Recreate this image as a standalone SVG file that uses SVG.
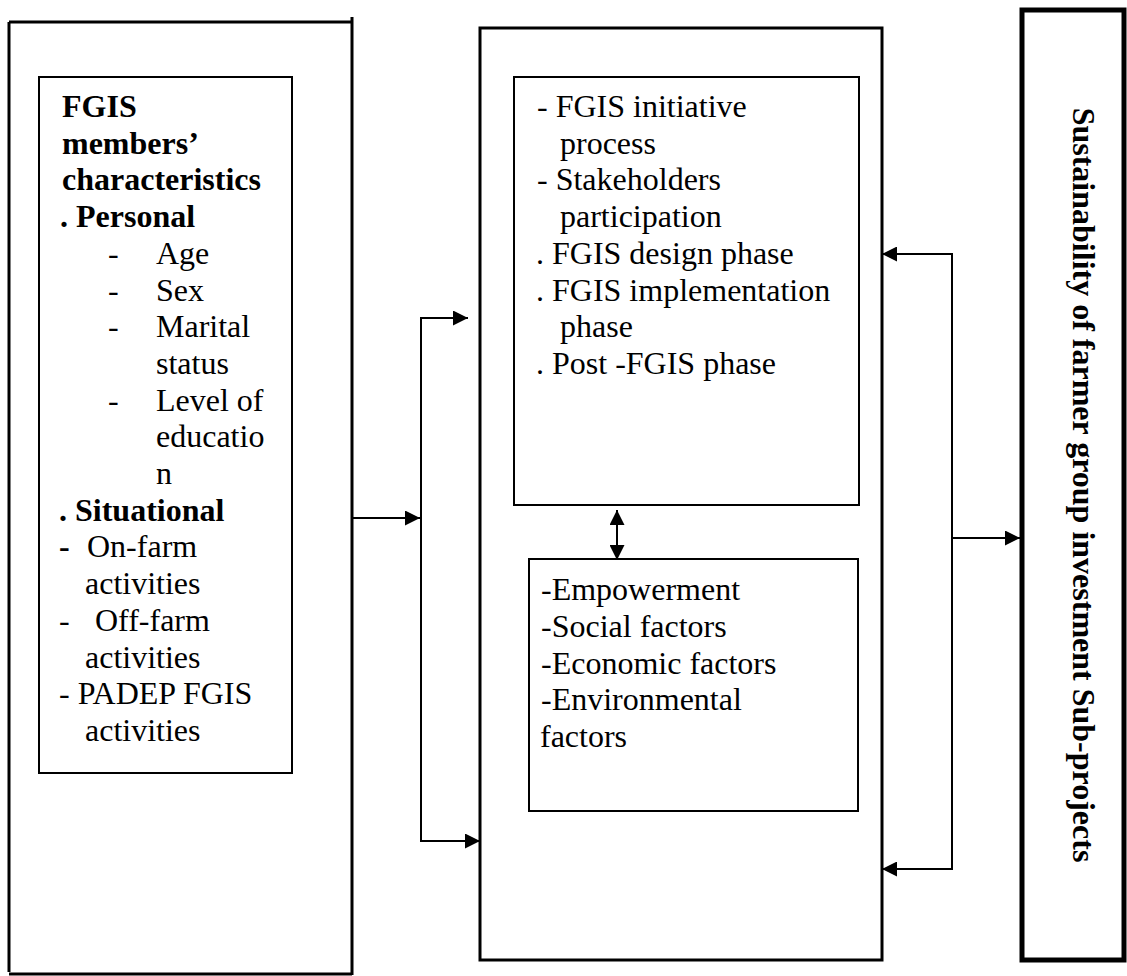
<svg xmlns="http://www.w3.org/2000/svg" width="1127" height="976" viewBox="0 0 1127 976">
<style>
  .t { font-family: "Liberation Serif", "Times New Roman", serif; font-size: 32px; fill: #000; }
  .b { font-weight: bold; }
  .box { fill: none; stroke: #000; }
  .conn { fill: none; stroke: #000; stroke-width: 2; }
</style>
<defs>
  <marker id="ah" viewBox="0 0 15 15" refX="15" refY="7.5" markerWidth="15" markerHeight="15" orient="auto-start-reverse" markerUnits="userSpaceOnUse">
    <path d="M0,0 L15,7.5 L0,15 Z" fill="#000"/>
  </marker>
</defs>
<rect width="1127" height="976" fill="#fff"/>

<g id="left-outer">
  <path class="box" stroke-width="3" d="M9,22 H352 M352,17 V975 M9,22 V972 M9,974 H352"/>
</g>

<g id="characteristics">
  <rect class="box" stroke-width="2" x="39" y="77" width="253" height="696"/>
  <text class="t b" x="62" y="117">FGIS</text>
  <text class="t b" x="62" y="153.7">members’</text>
  <text class="t b" x="62" y="190.4">characteristics</text>
  <text class="t b" x="60" y="227.1">. Personal</text>
  <text class="t" x="108" y="263.8">-</text><text class="t" x="156" y="263.8">Age</text>
  <text class="t" x="108" y="300.5">-</text><text class="t" x="156" y="300.5">Sex</text>
  <text class="t" x="108" y="337.2">-</text><text class="t" x="156" y="337.2">Marital</text>
  <text class="t" x="156" y="373.9">status</text>
  <text class="t" x="108" y="410.6">-</text><text class="t" x="156" y="410.6">Level of</text>
  <text class="t" x="156" y="447.3">educatio</text>
  <text class="t" x="156" y="484">n</text>
  <text class="t b" x="59" y="520.7">. Situational</text>
  <text class="t b" x="59" y="557.4">-</text><text class="t" x="87" y="557.4">On-farm</text>
  <text class="t" x="85" y="594.1">activities</text>
  <text class="t" x="59" y="630.8">-</text><text class="t" x="95" y="630.8">Off-farm</text>
  <text class="t" x="85" y="667.5">activities</text>
  <text class="t" x="59" y="704.2">- PADEP FGIS</text>
  <text class="t" x="85" y="740.9">activities</text>
</g>

<g id="middle-outer">
  <rect class="box" stroke-width="3" x="480" y="28" width="402" height="932"/>
</g>

<g id="process">
  <rect class="box" stroke-width="2" x="514" y="77" width="345" height="428"/>
  <text class="t" x="537" y="117">- FGIS initiative</text>
  <text class="t" x="560" y="153.7">process</text>
  <text class="t" x="537" y="190.4">- Stakeholders</text>
  <text class="t" x="560" y="227.1">participation</text>
  <text class="t" x="536" y="263.8">. FGIS design phase</text>
  <text class="t" x="536" y="300.5">. FGIS implementation</text>
  <text class="t" x="560" y="337.2">phase</text>
  <text class="t" x="536" y="373.9">. Post -FGIS phase</text>
</g>

<g id="factors">
  <rect class="box" stroke-width="2" x="529" y="559" width="329" height="252"/>
  <text class="t" x="541" y="600">-Empowerment</text>
  <text class="t" x="541" y="637">-Social factors</text>
  <text class="t" x="541" y="674">-Economic factors</text>
  <text class="t" x="541" y="710">-Environmental</text>
  <text class="t" x="540" y="747">factors</text>
</g>

<g id="sustainability">
  <rect class="box" stroke-width="5" x="1022" y="10" width="102" height="950"/>
  <text class="t b" text-anchor="middle" transform="translate(1073,485) rotate(90)">Sustainability of farmer group investment Sub-projects</text>
</g>

<g id="connectors">
  <path class="conn" d="M352,518 H420" marker-end="url(#ah)"/>
  <path class="conn" d="M468,318 H421 V841 H480" marker-start="url(#ah)" marker-end="url(#ah)"/>
  <path class="conn" d="M617,510 V560" marker-start="url(#ah)" marker-end="url(#ah)"/>
  <path class="conn" d="M882,254 H952 V869 H882" marker-start="url(#ah)" marker-end="url(#ah)"/>
  <path class="conn" d="M952,538 H1020" marker-end="url(#ah)"/>
</g>
</svg>
